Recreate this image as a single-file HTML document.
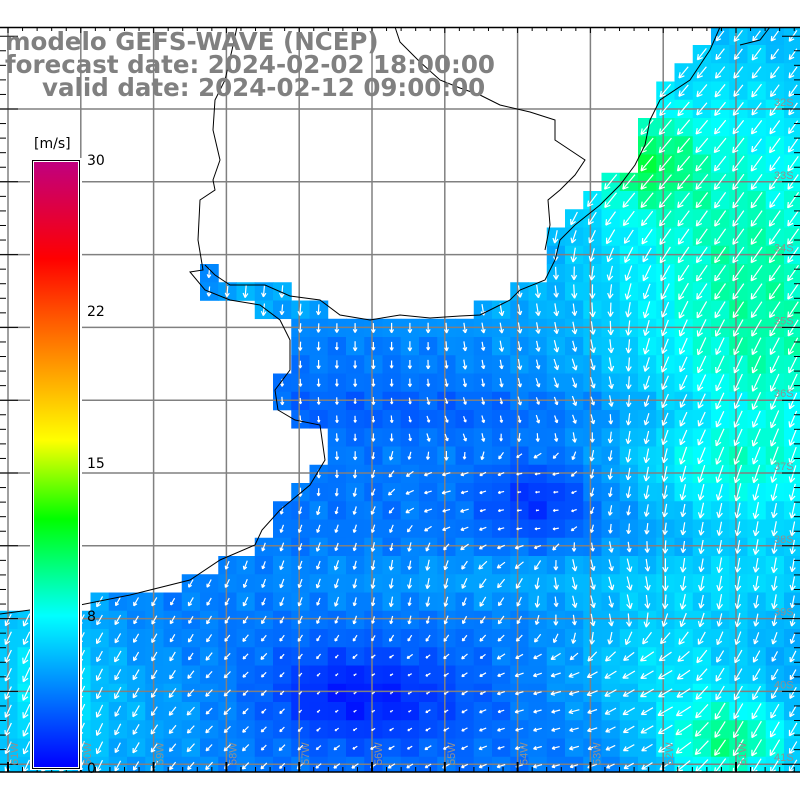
<!DOCTYPE html>
<html><head><meta charset="utf-8"><style>
html,body{margin:0;padding:0;background:#fff;}
body{width:800px;height:800px;overflow:hidden;position:relative;}
svg{position:absolute;left:0;top:0;}
.t{font-family:"DejaVu Sans","Liberation Sans",sans-serif;font-weight:bold;font-size:24.5px;fill:#808080;}
.s{font-family:"DejaVu Sans","Liberation Sans",sans-serif;font-size:14px;fill:#000;}
</style></head><body>
<svg id="m" width="800" height="800" xmlns="http://www.w3.org/2000/svg">
<defs><linearGradient id="cb" x1="0" y1="0" x2="0" y2="1">
<stop offset="0" stop-color="#c0007f"/><stop offset="0.16" stop-color="#ff0000"/>
<stop offset="0.25" stop-color="#ff5000"/><stop offset="0.46" stop-color="#ffff00"/>
<stop offset="0.59" stop-color="#00ff00"/><stop offset="0.75" stop-color="#00ffff"/>
<stop offset="1" stop-color="#0000ff"/></linearGradient></defs>
<g id="cells"></g><g id="grid"></g><g id="arr"></g><g id="coast"></g><g id="ticks"></g>
</svg>
<script>
var NS="http://www.w3.org/2000/svg";
function el(p,t,a){var e=document.createElementNS(NS,t);for(var k in a)e.setAttribute(k,a[k]);p.appendChild(e);return e;}
var ocean=[[800,27],[800,772],[0,772],[0,625],[20,612],[80,605],[150,592],[200,575],[236,555],[255,540],[270,522],[290,500],[308,483],[325,465],[325,425],[290,425],[275,380],[290,360],[290,330],[250,310],[220,300],[200,290],[200,264],[220,264],[220,282],[290,282],[295,300],[330,300],[330,318],[450,318],[490,300],[510,290],[545,282],[545,245],[565,228],[600,190],[635,160],[640,130],[655,100],[670,80],[700,60],[710,27]];
function inside(x,y,p){var c=false;for(var i=0,j=p.length-1;i<p.length;j=i++){var xi=p[i][0],yi=p[i][1],xj=p[j][0],yj=p[j][1];if(((yi>y)!=(yj>y))&&(x<(xj-xi)*(y-yi)/(yj-yi)+xi))c=!c;}return c;}
function g(x,y,cx,cy,sx,sy,a){return a*Math.exp(-((x-cx)*(x-cx)/(2*sx*sx)+(y-cy)*(y-cy)/(2*sy*sy)));}
function val(x,y){var v=3.7;
v+=g(x,y,720,220,130,160,4.3);v+=g(x,y,640,160,40,35,3.5);v+=g(x,y,780,420,80,150,3);
v+=g(x,y,40,690,50,90,3.5);v+=g(x,y,730,745,55,35,5.5);v+=g(x,y,660,660,70,50,2.8);
v+=g(x,y,540,500,40,30,-2.5);v+=g(x,y,380,700,70,35,-2.2);v+=g(x,y,330,690,50,30,-1);
v+=g(x,y,400,290,80,25,2);v+=g(x,y,560,580,200,20,1.4);v+=g(x,y,250,300,40,20,1.5);
v+=g(x,y,500,410,200,18,-1);v+=g(x,y,700,470,60,30,1.5);v+=g(x,y,150,720,60,60,1.2);
v+=0.5*Math.sin(x*0.13+y*0.07)*Math.cos(y*0.11);return v;}
function col(v){var r,gg,b;if(v<=8){var t=Math.max(0,v/8);r=0;gg=255*t;b=255;}else if(v<=12){var t=(v-8)/4;r=0;gg=255;b=255*(1-t);}else{var t=Math.min(1,(v-12)/3);r=255*t;gg=255;b=0;}return "rgb("+Math.round(r)+","+Math.round(gg)+","+Math.round(b)+")";}
var anc=[[400,350,90],[500,350,80],[450,430,70],[300,450,85],[560,400,70],[650,150,130],[750,250,125],[700,400,115],[620,480,100],[540,500,175],[450,490,165],[300,550,110],[150,620,120],[50,700,115],[250,700,135],[400,700,150],[550,720,165],[650,700,150],[750,700,120],[600,580,75],[750,580,100],[400,580,100],[250,290,95]];
function ang(x,y){var sx=0,sy=0;for(var i=0;i<anc.length;i++){var d=(x-anc[i][0])*(x-anc[i][0])+(y-anc[i][1])*(y-anc[i][1])+100;var w=1/(d*d);var a=anc[i][2]*Math.PI/180;sx+=w*Math.cos(a);sy+=w*Math.sin(a);}return Math.atan2(sy,sx);}
var C=document.getElementById("cells"),A=document.getElementById("arr");
var cs=18.25;
for(var i=-11;i<34;i++)for(var j=-14;j<29;j++){var x0=200+i*cs,y0=264+j*cs;if(x0>800||y0>772||x0+cs<0||y0+cs<27)continue;
var cx=x0+cs/2,cy=y0+cs/2;if(!inside(cx,cy,ocean))continue;
var v=val(cx,cy);var yy=Math.max(27,y0),hh=Math.min(772,y0+cs)-yy;
el(C,"rect",{x:x0.toFixed(2),y:yy.toFixed(2),width:(cs+0.5).toFixed(2),height:(hh+0.3).toFixed(2),fill:col(v)});
var a=ang(cx,cy),L=Math.min(19,Math.max(3,v*2.2));var dx=Math.cos(a)*L,dy=Math.sin(a)*L;
var x1=cx-dx/2,y1=cy-dy/2,x2=cx+dx/2,y2=cy+dy/2;var h=Math.min(6,L*0.4);
var p="M"+x1.toFixed(1)+","+y1.toFixed(1)+"L"+x2.toFixed(1)+","+y2.toFixed(1);
for(var s=-1;s<=1;s+=2){var b=a+Math.PI+s*0.5;p+="M"+x2.toFixed(1)+","+y2.toFixed(1)+"L"+(x2+Math.cos(b)*h).toFixed(1)+","+(y2+Math.sin(b)*h).toFixed(1);}
el(A,"path",{d:p,stroke:"#fff","stroke-width":"1.2",fill:"none"});}
var G=document.getElementById("grid");
for(var k=0;k<11;k++){var x=8+k*72.8;el(G,"line",{x1:x,y1:27,x2:x,y2:772,stroke:"#808080","stroke-width":"1.5"});}
for(var k=0;k<10;k++){var y=109+k*72.8;el(G,"line",{x1:0,y1:y,x2:800,y2:y,stroke:"#808080","stroke-width":"1.5"});}
var T=document.getElementById("ticks");
el(T,"line",{x1:0,y1:27.5,x2:800,y2:27.5,stroke:"#000","stroke-width":"1.5"});
el(T,"line",{x1:0,y1:772,x2:800,y2:772,stroke:"#000","stroke-width":"1.5"});
for(var k=-1;k<60;k++){var x=8+k*14.56;var mj=(k%5==0);el(T,"line",{x1:x,y1:27,x2:x,y2:mj?33:31,stroke:"#000"});el(T,"line",{x1:x,y1:772,x2:x,y2:mj?762:767,stroke:"#000","stroke-width":mj?2:1});}
for(var k=-6;k<60;k++){var y=109+k*14.56;if(y<27||y>772)continue;var mj=(k%5==0);el(T,"line",{x1:0,y1:y,x2:mj?18:6,y2:y,stroke:"#000"});el(T,"line",{x1:800,y1:y,x2:mj?782:794,y2:y,stroke:"#000"});}
var co=document.getElementById("coast");
function pl(pts){el(co,"polyline",{points:pts.map(function(p){return p.join(",")}).join(" "),fill:"none",stroke:"#000","stroke-width":"1"});}
pl([[237,27],[232,50],[225,80],[215,100],[213,130],[220,160],[213,180],[215,190],[200,200],[198,240],[203,270],[190,272],[205,290],[230,300],[260,305],[280,320],[290,340],[290,370],[275,390],[278,410],[295,420],[320,425],[325,460],[310,485],[280,510],[262,530],[255,545],[220,560],[190,580],[130,595],[80,605],[30,610],[0,614]]);
pl([[205,265],[215,275],[230,285],[265,285],[290,296],[320,300],[340,315],[370,320],[400,315],[430,318],[460,316],[480,315],[500,305],[510,300],[520,290],[545,280],[555,260],[560,240],[575,225],[600,205],[620,185],[635,165],[645,145],[650,120],[660,100],[690,80],[710,50],[720,27]]);
pl([[545,250],[550,225],[548,200],[560,190],[575,175],[585,160],[570,150],[555,140],[555,120],[530,112],[500,105],[480,95],[460,88],[440,80],[420,62],[400,42],[395,27]]);
pl([[740,45],[760,40],[770,27]]);
var lats=["32S","33S","34S","35S","36S","37S","38S","39S","40S","41S"];
for(var k=0;k<10;k++){var t=el(T,"text",{x:774,y:106+k*72.8,"font-family":"Liberation Sans,sans-serif","font-size":"11",fill:"#909090"});t.textContent=lats[k];}
var lons=["61W","60W","59W","58W","57W","56W","55W","54W","53W","52W","51W"];
for(var k=0;k<11;k++){var x=18+k*72.8;var t=el(T,"text",{x:0,y:0,transform:"translate("+x+",765) rotate(-90)","font-family":"Liberation Sans,sans-serif","font-size":"11",fill:"#909090"});t.textContent=lons[k];}
el(T,"rect",{x:30,y:158,width:52,height:612,fill:"#fff"});
el(T,"rect",{x:32.5,y:160.5,width:47,height:608,fill:"#fff",stroke:"#000","stroke-width":"1"});
el(T,"rect",{x:34,y:162,width:44,height:605,fill:"url(#cb)"});
var lab=[["30",160],["22",311],["15",463],["8",616],["0",768]];
lab.forEach(function(l){var t=el(T,"text",{x:87,y:l[1]+5,"class":"s"});t.textContent=l[0];});
var u=el(T,"text",{x:34,y:148,"class":"s"});u.textContent="[m/s]";
var tt=[["modelo GEFS-WAVE (NCEP)",5,50],["forecast date: 2024-02-02 18:00:00",5,73],["valid date: 2024-02-12 09:00:00",42,96]];
tt.forEach(function(l){var t=el(T,"text",{x:l[1],y:l[2],"class":"t"});t.textContent=l[0];});
</script>
</body></html>
